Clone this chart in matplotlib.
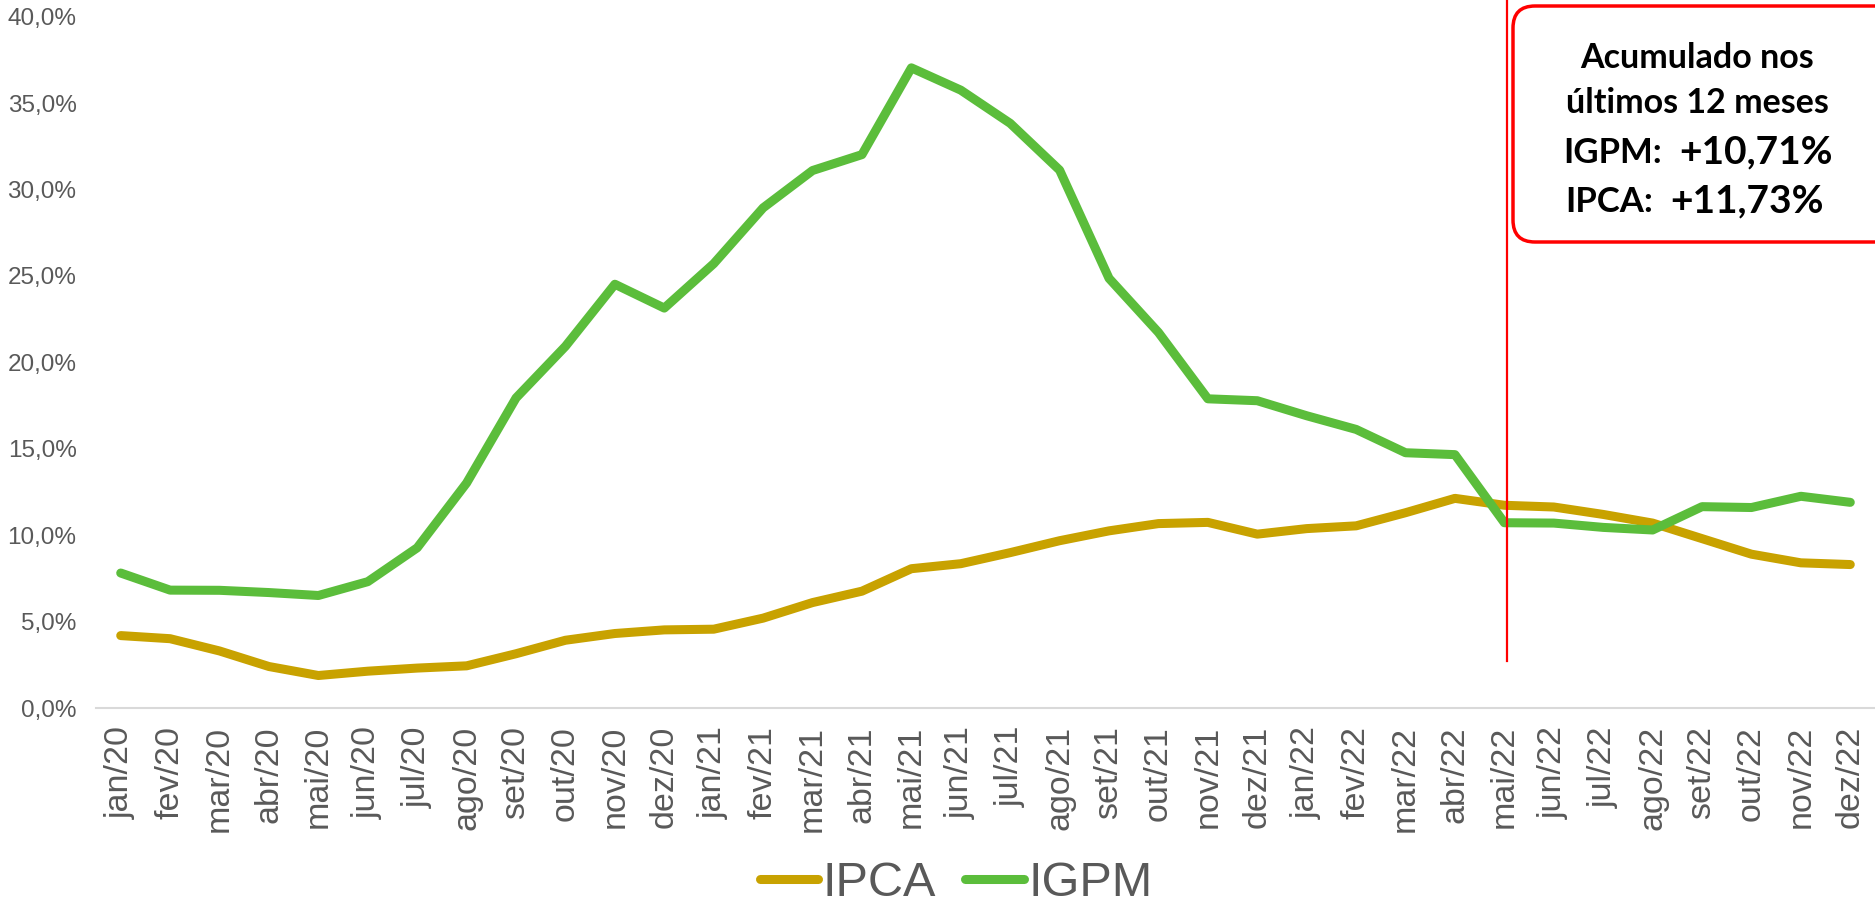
import matplotlib
matplotlib.use("Agg")
import matplotlib.pyplot as plt
from matplotlib.patches import FancyBboxPatch
from matplotlib.ticker import FuncFormatter

# 12-month accumulated inflation (%)
months = ["jan/20", "fev/20", "mar/20", "abr/20", "mai/20", "jun/20", "jul/20", "ago/20",
          "set/20", "out/20", "nov/20", "dez/20", "jan/21", "fev/21", "mar/21", "abr/21",
          "mai/21", "jun/21", "jul/21", "ago/21", "set/21", "out/21", "nov/21", "dez/21",
          "jan/22", "fev/22", "mar/22", "abr/22", "mai/22", "jun/22", "jul/22", "ago/22",
          "set/22", "out/22", "nov/22", "dez/22"]
ipca = [4.19, 4.01, 3.30, 2.40, 1.88, 2.13, 2.31, 2.44, 3.14, 3.92, 4.31, 4.52,
        4.56, 5.20, 6.10, 6.76, 8.06, 8.35, 8.99, 9.68, 10.25, 10.67, 10.74, 10.06,
        10.38, 10.54, 11.30, 12.13, 11.73, 11.63, 11.20, 10.70, 9.80, 8.90, 8.40, 8.30]
igpm = [7.81, 6.82, 6.81, 6.68, 6.51, 7.31, 9.27, 13.02, 17.94, 20.93, 24.52, 23.14,
        25.71, 28.94, 31.10, 32.02, 37.04, 35.75, 33.83, 31.12, 24.86, 21.73, 17.89, 17.78,
        16.91, 16.12, 14.77, 14.66, 10.72, 10.70, 10.45, 10.30, 11.65, 11.60, 12.25, 11.90]

box_lines = ["Acumulado nos", "últimos 12 meses"]
box_values = [("IGPM:", "+10,71%"), ("IPCA:", "+11,73%")]

GOLD = "#C8A200"
GREEN = "#5BBD3B"
GREY = "#595959"

plt.rcParams['font.family'] = ['Liberation Sans', 'DejaVu Sans']

fig = plt.figure(figsize=(18.75, 8.99), dpi=100)
ax = fig.add_axes([96 / 1875, 1 - 708 / 899, 1 - 96 / 1875, (708 - 16.7) / 899])

x = list(range(len(months)))
ax.plot(x, ipca, color=GOLD, lw=6.5, solid_capstyle="round", solid_joinstyle="round", label="IPCA")
ax.plot(x, igpm, color=GREEN, lw=6.5, solid_capstyle="round", solid_joinstyle="round", label="IGPM")

ax.set_xlim(-0.5, len(months) - 0.5)
ax.set_ylim(0, 40)
ax.set_yticks(range(0, 41, 5))
ax.yaxis.set_major_formatter(FuncFormatter(lambda v, p: f"{v:.1f}%".replace(".", ",")))
ax.set_xticks(x)
ax.set_xticklabels(months, rotation=90)
ax.tick_params(axis="y", length=0, pad=14, labelsize=17.5, labelcolor=GREY)
ax.tick_params(axis="x", length=0, pad=13, labelsize=24.5, labelcolor=GREY)
for s in ["top", "right", "left"]:
    ax.spines[s].set_visible(False)
ax.spines["bottom"].set_color("#D9D9D9")
ax.spines["bottom"].set_linewidth(1.5)

# red marker line at the last real month
ax.plot([28.06, 28.06], [2.7, 41.5], color="#FF0000", lw=1.6, clip_on=False, zorder=5)

fig.legend(loc="center", bbox_to_anchor=(0.51, 1 - 884 / 899), ncol=2, frameon=False,
           fontsize=35, labelcolor=GREY, handlelength=1.2, handletextpad=0.1,
           columnspacing=0.6, borderpad=0)

# overlay in pixel coordinates for the callout box
ov = fig.add_axes([0, 0, 1, 1], zorder=10)
ov.set_xlim(0, 1875)
ov.set_ylim(899, 0)
ov.axis("off")
ov.patch.set_alpha(0)
box = FancyBboxPatch((1513, 6), 420, 236, boxstyle="round,pad=0,rounding_size=22",
                     fc="white", ec="#FF0000", lw=2.5)
ov.add_patch(box)

bfont = ['Lato', 'DejaVu Sans']
ov.text(1697, 68, box_lines[0], ha="center", va="baseline", fontsize=24.5,
        fontweight="bold", family=bfont)
ov.text(1697, 113, box_lines[1], ha="center", va="baseline", fontsize=24.5,
        fontweight="bold", family=bfont)
for (lab, val), (xr, yb) in zip(box_values, [(1662, 163), (1653, 212)]):
    ov.text(xr, yb, lab, ha="right", va="baseline", fontsize=25, fontweight="bold", family=bfont)
    ov.text(xr + 17, yb, val, ha="left", va="baseline", fontsize=28, fontweight="bold", family=bfont)

fig.savefig("out.png", dpi=100)
